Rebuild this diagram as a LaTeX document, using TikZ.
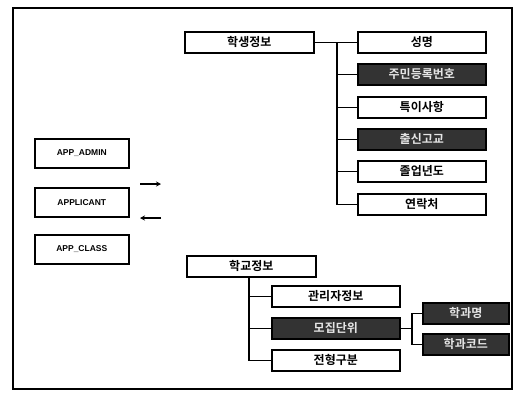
\documentclass[tikz,border=0pt]{standalone}
\usepackage{fontspec}
\newfontfamily\kr{Noto Sans CJK KR}[BoldFont={* Bold}]
\setmainfont{Liberation Sans}
\tikzset{
  box/.style={draw=black, line width=1.6pt, minimum height=21pt, inner sep=0pt, font=\kr\bfseries\fontsize{12}{13}\selectfont, anchor=north west},
  boxa/.style={box, minimum width=129pt},
  boxb/.style={box, minimum width=128pt},
  boxc/.style={box, minimum width=86pt},
  dark/.style={fill=black!80, text=white!80!gray},
  appbox/.style={draw=black, line width=1.6pt, minimum width=94pt, minimum height=29pt, inner sep=0pt, font=\bfseries\fontsize{8.5}{9}\selectfont, anchor=north west},
  link/.style={line width=1.4pt},
  arr/.style={line width=1.2pt, -{Stealth[length=5pt,width=5pt]}}
}
\usetikzlibrary{arrows.meta}
\begin{document}
\begin{tikzpicture}[x=1pt,y=-1pt]
\useasboundingbox (0,0) rectangle (524,392);
\draw[line width=1.5pt] (13,8) rectangle (512,389);
% student info tree
\node[boxa] (stu) at (184,31) {학생정보};
\node[boxb] (s1) at (357,31) {성명};
\node[boxb,dark] (s2) at (357,63) {주민등록번호};
\node[boxb] (s3) at (357,96) {특이사항};
\node[boxb,dark] (s4) at (357,128) {출신고교};
\node[boxb] (s5) at (357,160) {졸업년도};
\node[boxb] (s6) at (357,193) {연락처};
\coordinate (sv) at (337,0);
\draw[link] (stu.east) -- (sv |- stu.east) |- (s6.west);
\foreach \n in {s1,s2,s3,s4,s5}{\draw[link] (sv |- \n.west) -- (\n.west);}
% left boxes
\node[appbox] (a1) at (34,138) {APP\_ADMIN};
\node[appbox] (a2) at (34,187) {APPLICANT};
\node[appbox] (a3) at (34,234) {APP\_CLASS};
\coordinate (r1) at (140,184);
\coordinate (r2) at (161,184);
\coordinate (l1) at (161,218);
\coordinate (l2) at (140,218);
\draw[arr] (r1) -- (r2);
\draw[arr] (l1) -- (l2);
% school info tree
\node[boxa] (sch) at (186,255) {학교정보};
\node[boxb] (c1) at (271,285) {관리자정보};
\node[boxb,dark] (c2) at (271,317) {모집단위};
\node[boxb] (c3) at (271,349) {전형구분};
\coordinate (cv) at (249,0);
\draw[link] (cv |- sch.south) |- (c3.west);
\foreach \n in {c1,c2}{\draw[link] (cv |- \n.west) -- (\n.west);}
\node[boxc,dark] (d1) at (422,302) {학과명};
\node[boxc,dark] (d2) at (422,333) {학과코드};
\coordinate (dv) at (412,0);
\draw[link] (c2.east) -- (dv |- c2.east);
\draw[link] (dv |- d1.west) -- (d1.west);
\draw[link] (d1.west -| dv) -- (d2.west -| dv) -- (d2.west);
\end{tikzpicture}
\end{document}
